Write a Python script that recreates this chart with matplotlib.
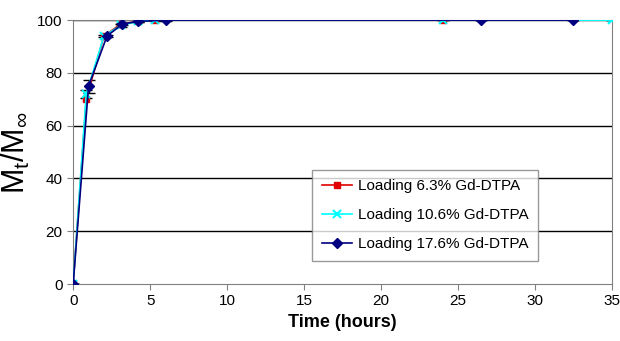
import matplotlib
matplotlib.use("Agg")
import matplotlib.pyplot as plt

plt.rcParams["font.family"] = ["Liberation Sans", "DejaVu Sans"]
plt.rcParams["mathtext.fontset"] = "custom"
plt.rcParams["mathtext.rm"] = "Liberation Sans"

# dados
t_63 = [0, 0.85, 2.0, 3.1, 4.2, 5.3, 24.0]
m_63 = [0, 70, 94, 98.5, 99.5, 100, 100]

t_106 = [0, 0.85, 2.0, 3.1, 4.2, 5.3, 24.0, 35.0]
m_106 = [0, 72, 94, 98, 99.5, 100, 100, 100]
err_106 = [0, 1.5, 0.5, 0.5, 0.3, 0.3, 0, 0]

t_176 = [0, 1.0, 2.2, 3.2, 4.2, 6.0, 26.5, 32.5]
m_176 = [0, 75, 94, 98.5, 99.5, 100, 100, 100]
err_176 = [0, 2.5, 0.5, 0.5, 0.3, 0.3, 0, 0]

fig = plt.figure(figsize=(6.2, 3.41), dpi=100)
ax = fig.add_axes([0.118, 0.167, 0.869, 0.774])

ax.errorbar(t_106, m_106, yerr=err_106, fmt="none", ecolor="black", elinewidth=1, capsize=4, zorder=2)
ax.errorbar(t_176, m_176, yerr=err_176, fmt="none", ecolor="black", elinewidth=1, capsize=4, zorder=2)

ax.plot(t_63, m_63, color="#e00000", marker="s", markersize=5, lw=1.2, label="Loading 6.3% Gd-DTPA", zorder=3)
ax.plot(t_106, m_106, color="#00ffff", marker="x", markersize=6, mew=1.5, lw=1.2, label="Loading 10.6% Gd-DTPA", zorder=4)
ax.plot(t_176, m_176, color="#000080", marker="D", markersize=5, lw=1.2, label="Loading 17.6% Gd-DTPA", zorder=5)

ax.set_xlim(0, 35)
ax.set_ylim(0, 100)
ax.set_xticks(range(0, 36, 5))
ax.set_yticks(range(0, 101, 20))
for y in range(20, 101, 20):
    ax.axhline(y, color="black", lw=1, zorder=1)
for s in ax.spines.values():
    s.set_color("#808080")
ax.tick_params(colors="black", labelsize=11, length=4, color="#808080")
ax.set_xlabel("Time (hours)", fontsize=13, fontweight="bold")
ax.set_ylabel(r"M$_\mathrm{t}$/M$_\infty$", fontsize=22)

leg = ax.legend(loc="lower left", bbox_to_anchor=(0.43, 0.06), fontsize=11, frameon=True,
                fancybox=False, edgecolor="#808080", handlelength=2.0, handletextpad=0.4,
                borderpad=0.6, labelspacing=1.0)
leg.get_frame().set_linewidth(1)

fig.savefig("out.png", dpi=100)
